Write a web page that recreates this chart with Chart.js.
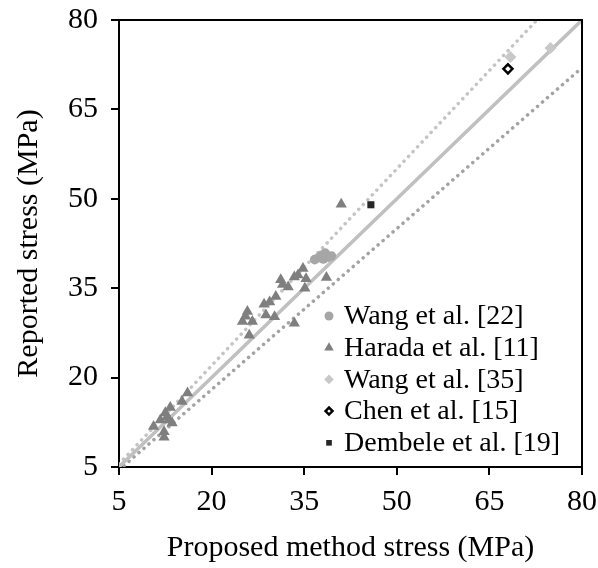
<!DOCTYPE html>
<html>
<head>
<meta charset="utf-8">
<script src="https://cdn.jsdelivr.net/npm/chart.js@4/dist/chart.umd.min.js"></script>
<style>
  html, body { margin: 0; padding: 0; background: #fff; }
  #wrap { width: 598px; height: 568px; }
</style>
</head>
<body>
<div id="wrap"><canvas id="c" width="598" height="568"></canvas></div>
<script>
// values (MPa): [proposed, reported]
var wang22 = [[36.7, 39.8], [37.3, 40.1], [37.8, 40.5], [38.4, 40.9], [38.9, 40.2], [39.4, 40.4], [38.1, 39.9]];
var harada11 = [
  [10.6, 11.8], [11.7, 12.9], [12.3, 10.9], [12.3, 10.0], [12.5, 14.1], [12.8, 13.4], [13.1, 12.9],
  [13.3, 15.0], [13.6, 12.4], [15.2, 16.0], [16.1, 17.4],
  [25.0, 29.4], [25.5, 30.3], [25.8, 31.1], [26.6, 29.4], [26.1, 27.1], [28.5, 32.3], [28.8, 30.5],
  [29.4, 32.7], [30.2, 30.2], [30.4, 33.6], [31.2, 36.4], [31.5, 35.6], [32.4, 35.2], [33.4, 36.9],
  [34.0, 37.2], [34.8, 38.3], [35.3, 36.6], [35.1, 35.0], [33.4, 29.1], [38.6, 36.8], [41.0, 49.1]
];
var wang35 = [[68.4, 73.8], [74.9, 75.3]];
var chen15 = [[68.0, 71.8]];
var dembele19 = [[45.8, 49.0]];

// reference lines: equality and +/-10 %
var lineEqual = [[5, 5], [80, 80]];
var lineUpper = [[5, 5.5], [72.7, 80]];
var lineLower = [[5, 4.5], [80, 72]];

var axisTicks = [5, 20, 35, 50, 65, 80];
var seriesLabels = ['Wang et al. [22]', 'Harada et al. [11]', 'Wang et al. [35]', 'Chen et al. [15]', 'Dembele et al. [19]'];

function pts(arr) {
  return arr.map(function (p) { return { x: p[0], y: p[1] }; });
}

Chart.defaults.font.family = '"Liberation Serif", "Times New Roman", serif';
Chart.defaults.color = '#000';

var legendSizes = [4.5, 5.5, 4.8, 3.5, 4];

// legend drawn inside the plot, lower right
var innerLegend = {
  id: 'innerLegend',
  afterDraw: function (chart) {
    var ctx = chart.ctx, a = chart.chartArea;
    var mx = a.left + 210, tx = a.left + 225, y0 = a.top + 296, dy = 31.7;
    ctx.save();
    ctx.font = '28px "Liberation Serif", "Times New Roman", serif';
    ctx.textBaseline = 'middle';
    chart.data.datasets.forEach(function (ds) {
      if (ds.isRef) return;
      var y = y0 + dy * ds.legendRow;
      ctx.fillStyle = ds.backgroundColor;
      ctx.strokeStyle = ds.borderColor;
      ctx.lineWidth = ds.borderWidth;
      Chart.helpers.drawPoint(ctx, { pointStyle: ds.pointStyle, radius: legendSizes[ds.legendRow], borderWidth: ds.borderWidth, rotation: 0 }, mx, y);
      ctx.fillStyle = '#000';
      ctx.fillText(ds.label, tx, y + 1);
    });
    ctx.restore();
  }
};

// closes the box along the top and right
var frame = {
  id: 'frame',
  afterDraw: function (chart) {
    var ctx = chart.ctx, a = chart.chartArea;
    ctx.save();
    ctx.strokeStyle = '#000';
    ctx.lineWidth = 2;
    ctx.beginPath();
    ctx.moveTo(a.left, a.top);
    ctx.lineTo(a.right, a.top);
    ctx.lineTo(a.right, a.bottom);
    ctx.stroke();
    ctx.restore();
  }
};

function refLine(data, color, dotted) {
  return {
    isRef: true,
    data: pts(data),
    showLine: true,
    pointRadius: 0,
    borderColor: color,
    borderWidth: 3.5,
    borderCapStyle: 'round',
    borderDash: dotted ? [0.1, 6.5] : [],
    order: 10
  };
}

new Chart(document.getElementById('c'), {
  type: 'scatter',
  data: {
    datasets: [
      refLine(lineEqual, '#c0c0c0', false),
      refLine(lineUpper, '#c4c4c4', true),
      refLine(lineLower, '#a3a3a3', true),
      { label: seriesLabels[0], legendRow: 0, data: pts(wang22), pointStyle: 'circle', pointRadius: 4.8,
        backgroundColor: '#a6a6a6', borderColor: '#a6a6a6', borderWidth: 0, order: 1 },
      { label: seriesLabels[1], legendRow: 1, data: pts(harada11), pointStyle: 'triangle', pointRadius: 6.5,
        backgroundColor: '#7f7f7f', borderColor: '#7f7f7f', borderWidth: 0, order: 1 },
      { label: seriesLabels[2], legendRow: 2, data: pts(wang35), pointStyle: 'rectRot', pointRadius: 6,
        backgroundColor: '#c8c8c8', borderColor: '#c8c8c8', borderWidth: 0, order: 1 },
      { label: seriesLabels[3], legendRow: 3, data: pts(chen15), pointStyle: 'rectRot', pointRadius: 4.5,
        backgroundColor: '#ffffff', borderColor: '#000000', borderWidth: 2.5, order: 1 },
      { label: seriesLabels[4], legendRow: 4, data: pts(dembele19), pointStyle: 'rect', pointRadius: 5,
        backgroundColor: '#262626', borderColor: '#262626', borderWidth: 0, order: 1 }
    ]
  },
  options: {
    responsive: false,
    animation: false,
    layout: { padding: { top: 20, right: 16, left: 0, bottom: 0 } },
    plugins: { legend: { display: false }, tooltip: { enabled: false } },
    elements: { point: { hoverRadius: 0 } },
    scales: {
      x: {
        type: 'linear', min: 5, max: 80,
        afterBuildTicks: function (s) { s.ticks = axisTicks.map(function (v) { return { value: v }; }); },
        afterFit: function (s) { s.height = 101; s.paddingLeft = 0; s.paddingRight = 0; },
        ticks: { font: { size: 30 }, padding: 9, maxRotation: 0, autoSkip: false },
        grid: { drawOnChartArea: false, drawTicks: true, tickLength: 8, color: '#000', lineWidth: 2 },
        border: { color: '#000', width: 2 },
        title: { display: true, text: 'Proposed method stress (MPa)', font: { size: 30, lineHeight: 1 }, padding: { top: 0, bottom: 5 } }
      },
      y: {
        type: 'linear', min: 5, max: 80,
        afterBuildTicks: function (s) { s.ticks = axisTicks.map(function (v) { return { value: v }; }); },
        afterFit: function (s) { s.width = 119; s.paddingTop = 0; s.paddingBottom = 0; },
        ticks: { font: { size: 30 }, padding: 13, autoSkip: false },
        grid: { drawOnChartArea: false, drawTicks: true, tickLength: 8, color: '#000', lineWidth: 2 },
        border: { color: '#000', width: 2 },
        title: { display: true, text: 'Reported stress (MPa)', font: { size: 30, lineHeight: 1 }, padding: { top: 14, bottom: 0 } }
      }
    }
  },
  plugins: [innerLegend, frame]
});
</script>
</body>
</html>
